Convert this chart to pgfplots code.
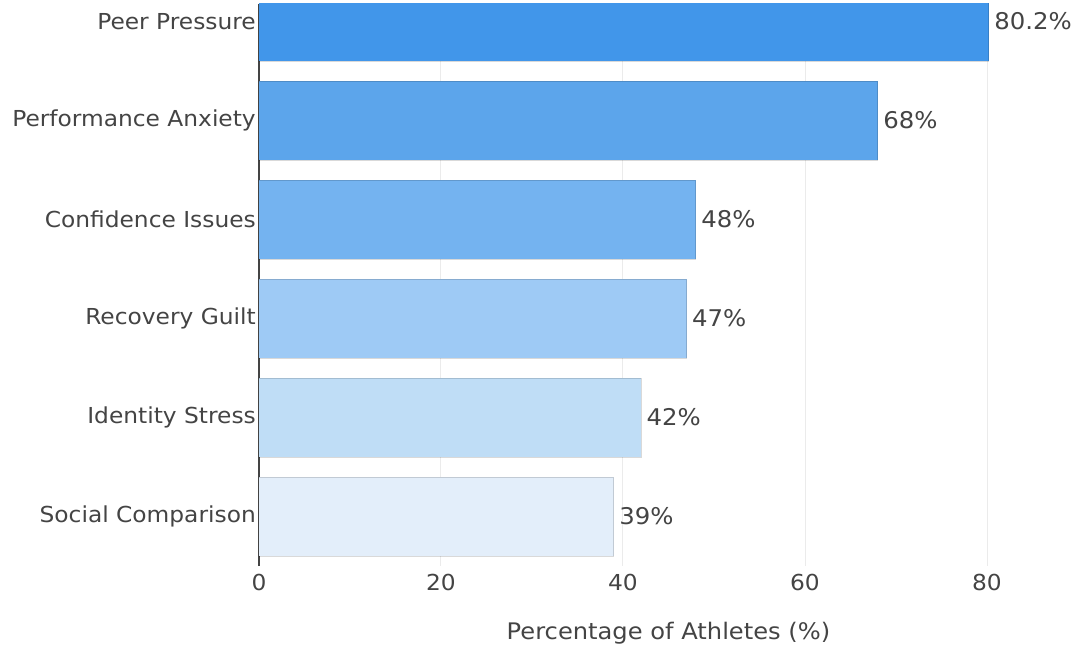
\documentclass[border=0pt]{standalone}
\usepackage{pgfplots}
\pgfplotsset{compat=1.18}
\usepackage{fontspec}
\setmainfont{DejaVu Sans}[FakeStretch=1.06]
\definecolor{txt}{HTML}{444444}
\definecolor{grid}{HTML}{EBEBEB}
\definecolor{c5}{HTML}{4196EA}
\definecolor{c4}{HTML}{5CA5EB}
\definecolor{c3}{HTML}{74B3F0}
\definecolor{c2}{HTML}{9ECAF5}
\definecolor{c1}{HTML}{BFDDF6}
\definecolor{c0}{HTML}{E3EEFA}
\newcommand{\f}{\fontsize{22bp}{26bp}\selectfont}
\newcommand{\fv}{\fontsize{23bp}{27bp}\selectfont}
\newcommand{\fl}{\fontsize{22.8bp}{27bp}\selectfont}
\begin{document}
\begin{tikzpicture}
\useasboundingbox (-259bp,-82bp) rectangle (820bp,566bp);
\begin{axis}[
  at={(0,0)}, anchor=south west,
  scale only axis, width=819bp, height=562bp,
  xmin=0, xmax=90, ymin=-0.5, ymax=5.177,
  xbar, bar width=79bp, bar shift=0pt,
  axis lines*=left,
  x axis line style={draw=none},
  y axis line style={draw=txt, line width=1.2bp},
  major tick length=0pt,
  xtick={0,20,40,60,80},
  xmajorgrids, grid style={draw=grid, line width=1bp},
  ytick={0,1,2,3,4,5},
  yticklabels={Social Comparison, Identity Stress, Recovery Guilt, Confidence Issues, Performance Anxiety, Peer Pressure},
  yticklabel style={anchor=east, inner sep=0pt, xshift=-3bp, font=\f, text=txt},
  xticklabel style={anchor=north, inner sep=0pt, yshift=-8bp, font=\f, text=txt},
  /pgf/number format/assume math mode=true,
  xlabel={Percentage of Athletes (\%)},
  xlabel style={at={(axis description cs:0.5,0)}, anchor=center, yshift=-67bp, font=\fl, text=txt},
  point meta=x,
  nodes near coords={\pgfmathprintnumber{\pgfplotspointmeta}\%},
  every node near coord/.append style={anchor=west, inner sep=0pt, xshift=5bp, font=\fv, text=txt},
  every axis plot/.append style={draw=black, draw opacity=0.15, line width=1bp},
]
\addplot[fill=c0] coordinates {(39,0)};
\addplot[fill=c1] coordinates {(42,1)};
\addplot[fill=c2] coordinates {(47,2)};
\addplot[fill=c3] coordinates {(48,3)};
\addplot[fill=c4] coordinates {(68,4)};
\addplot[fill=c5] coordinates {(80.2,5)};
\end{axis}
\end{tikzpicture}
\end{document}
